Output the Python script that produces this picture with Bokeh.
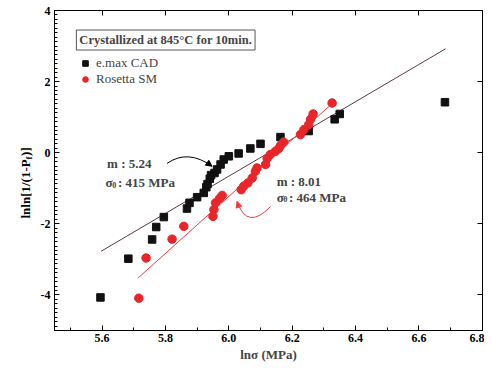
import math
from bokeh.plotting import figure
from bokeh.layouts import row
from bokeh.models import (Range1d, LinearAxis, SingleIntervalTicker, PrintfTickFormatter,
                          CustomJSTickFormatter, Label, Legend, LegendItem, Arrow, NormalHead)
from bokeh.core.properties import value
from bokeh.embed import file_html
from bokeh.resources import INLINE

# ---- data ----
emax_x = [5.595, 5.683, 5.758, 5.771, 5.795, 5.868, 5.876, 5.900, 5.921, 5.929, 5.933, 5.940,
          5.944, 5.955, 5.963, 5.974, 5.984, 6.000, 6.031, 6.068, 6.100, 6.163, 6.252, 6.334,
          6.350, 6.682]
emax_y = [-4.07, -2.98, -2.44, -2.09, -1.81, -1.57, -1.41, -1.25, -1.13, -0.97, -0.88, -0.73,
          -0.63, -0.57, -0.47, -0.33, -0.19, -0.10, -0.02, 0.12, 0.25, 0.44, 0.61, 0.94,
          1.09, 1.42]
ros_x = [5.716, 5.739, 5.821, 5.858, 5.950, 5.953, 5.958, 5.971, 5.979, 6.039, 6.047, 6.060,
         6.074, 6.084, 6.089, 6.116, 6.121, 6.131, 6.147, 6.158, 6.163, 6.173, 6.226, 6.237,
         6.252, 6.258, 6.266, 6.326]
ros_y = [-4.09, -2.96, -2.43, -2.07, -1.79, -1.60, -1.41, -1.29, -1.20, -1.04, -0.94, -0.85,
         -0.71, -0.52, -0.43, -0.33, -0.16, -0.05, 0.04, 0.12, 0.20, 0.30, 0.51, 0.65,
         0.79, 0.94, 1.09, 1.40]

emax_m, emax_b, emax_xr = 5.24, -32.10, [5.597, 6.684]
ros_m, ros_b, ros_xr = 8.01, -49.29, [5.713, 6.326]

SERIF = "Liberation Serif"
YR = (-5, 4.0005)

p = figure(frame_width=428, frame_height=320, output_backend="svg", toolbar_location=None,
           x_range=Range1d(5.45, 6.8005), y_range=Range1d(*YR),
           min_border_left=18, min_border_top=10, min_border_right=2, min_border_bottom=4)
p.grid.visible = False
p.outline_line_color = "black"
p.outline_line_width = 1
p.background_fill_color = "white"
p.border_fill_color = "white"

xt = SingleIntervalTicker(interval=0.2, num_minor_ticks=2)
yt = SingleIntervalTicker(interval=2, num_minor_ticks=16)

for ax in (p.xaxis[0], p.yaxis[0]):
    ax.major_tick_in = 5
    ax.major_tick_out = 0
    ax.minor_tick_in = 3
    ax.minor_tick_out = 0
    ax.axis_line_color = "black"
    ax.major_tick_line_color = "black"
    ax.minor_tick_line_color = "black"
    ax.major_label_text_font = SERIF
    ax.major_label_text_font_style = "bold"
    ax.major_label_text_font_size = "12px"
    ax.major_label_text_color = "black"

p.xaxis[0].ticker = xt
p.xaxis[0].formatter = PrintfTickFormatter(format="%.1f")
p.xaxis[0].major_label_standoff = 3
p.xaxis[0].axis_label = "lnσ (MPa)"
p.xaxis[0].axis_label_text_font = SERIF
p.xaxis[0].axis_label_text_font_style = "bold"
p.xaxis[0].axis_label_text_font_size = "13px"
p.xaxis[0].axis_label_standoff = 2

p.yaxis[0].ticker = yt
p.yaxis[0].formatter = PrintfTickFormatter(format="%d")
p.yaxis[0].major_label_standoff = 4

top = LinearAxis(ticker=SingleIntervalTicker(interval=0.2, num_minor_ticks=0))
right = LinearAxis(ticker=SingleIntervalTicker(interval=2, num_minor_ticks=0))
for ax in (top, right):
    ax.major_tick_in = 5
    ax.major_tick_out = 0
    ax.minor_tick_line_color = None
    ax.formatter = CustomJSTickFormatter(code="return ''")
    ax.major_label_text_font_size = "1px"
    ax.major_label_standoff = 0
    ax.axis_line_color = "black"
p.add_layout(top, "above")
p.add_layout(right, "right")

# fit lines
p.line(emax_xr, [emax_m * v + emax_b for v in emax_xr], line_color="#5a3c3c", line_width=1)
p.line(ros_xr, [ros_m * v + ros_b for v in ros_xr], line_color="#f03c3c", line_width=1)

r1 = p.scatter(emax_x, emax_y, marker="square", size=7.5, fill_color="#111111", line_color="#111111")
r2 = p.scatter(ros_x, ros_y, marker="circle", size=8.5, fill_color="#e8262a", line_color="#e8262a")

legend = Legend(items=[LegendItem(label="e.max CAD", renderers=[r1]),
                       LegendItem(label="Rosetta SM", renderers=[r2])],
                location=(24, 243), background_fill_alpha=0, border_line_alpha=0,
                glyph_width=14, glyph_height=14, label_height=14, label_standoff=4,
                spacing=0, padding=0, margin=0,
                label_text_font=SERIF, label_text_font_size="13px")
p.add_layout(legend)

# title box
p.add_layout(Label(x=5.519, y=3.17, text="Crystallized at 845°C for 10min.",
                   text_font=SERIF, text_font_style="bold", text_font_size="12.5px",
                   text_baseline="middle", border_line_color="#555555", border_line_width=1,
                   padding=3, background_fill_color="white"))

def lab(x, y, t, size="13px", **kw):
    p.add_layout(Label(x=x, y=y, text=t, text_font=SERIF, text_font_style="bold",
                       text_font_size=size, text_baseline="middle", **kw))

lab(5.616, -0.30, "m : 5.24")
lab(5.611, -0.83, "σ")
lab(5.632, -0.90, "0", size="8px")
lab(5.650, -0.83, ": 415 MPa")
lab(6.151, -0.82, "m : 8.01")
lab(6.151, -1.25, "σ")
lab(6.172, -1.32, "θ", size="8px")
lab(6.190, -1.25, ": 464 MPa")

# curved arrows
bx0, by0, bcx, bcy, bx1, by1 = 5.805, -0.30, 5.871, 0.107, 5.947, -0.38
p.quadratic(x0=[bx0], y0=[by0], x1=[bx1], y1=[by1], cx=[bcx], cy=[bcy], line_color="black", line_width=1)
p.add_layout(Arrow(end=NormalHead(size=6, fill_color="black", line_color="black"),
                   x_start=bx1 - 0.15 * (bx1 - bcx), y_start=by1 - 0.15 * (by1 - bcy),
                   x_end=bx1, y_end=by1, line_color="black", line_width=1))

rx0, ry0, rcx, rcy, rx1, ry1 = 6.132, -1.51, 6.058, -2.20, 6.026, -1.37
p.quadratic(x0=[rx0], y0=[ry0], x1=[rx1], y1=[ry1], cx=[rcx], cy=[rcy], line_color="#f03c3c", line_width=1)
p.add_layout(Arrow(end=NormalHead(size=6, fill_color="#f03c3c", line_color="#f03c3c"),
                   x_start=rx1 - 0.15 * (rx1 - rcx), y_start=ry1 - 0.15 * (ry1 - rcy),
                   x_end=rx1, y_end=ry1, line_color="#f03c3c", line_width=1))

# y-axis title panel (rotated text with subscript)
yl = figure(frame_width=36, frame_height=320, output_backend="svg", toolbar_location=None,
            x_range=Range1d(0, 36), y_range=Range1d(*YR),
            min_border_left=0, min_border_right=0, min_border_top=10, min_border_bottom=0)
yl.axis.visible = False
yl.grid.visible = False
yl.outline_line_color = None
yl.background_fill_color = "white"
yl.border_fill_color = "white"
common = dict(text_font=value(SERIF), text_font_style="bold", angle=math.pi / 2,
              text_baseline="middle", text_align="left", text_color="black")
yl.text(x=[25], y=[-1.85], text=["lnln[1/(1-P"], text_font_size="13px", **common)
yl.text(x=[28], y=[-0.19], text=["f"], text_font_size="9px", **common)
yl.text(x=[25], y=[-0.09], text=[")]"], text_font_size="13px", **common)

layout = row(yl, p)
open("out.html", "w").write(file_html(layout, INLINE))
